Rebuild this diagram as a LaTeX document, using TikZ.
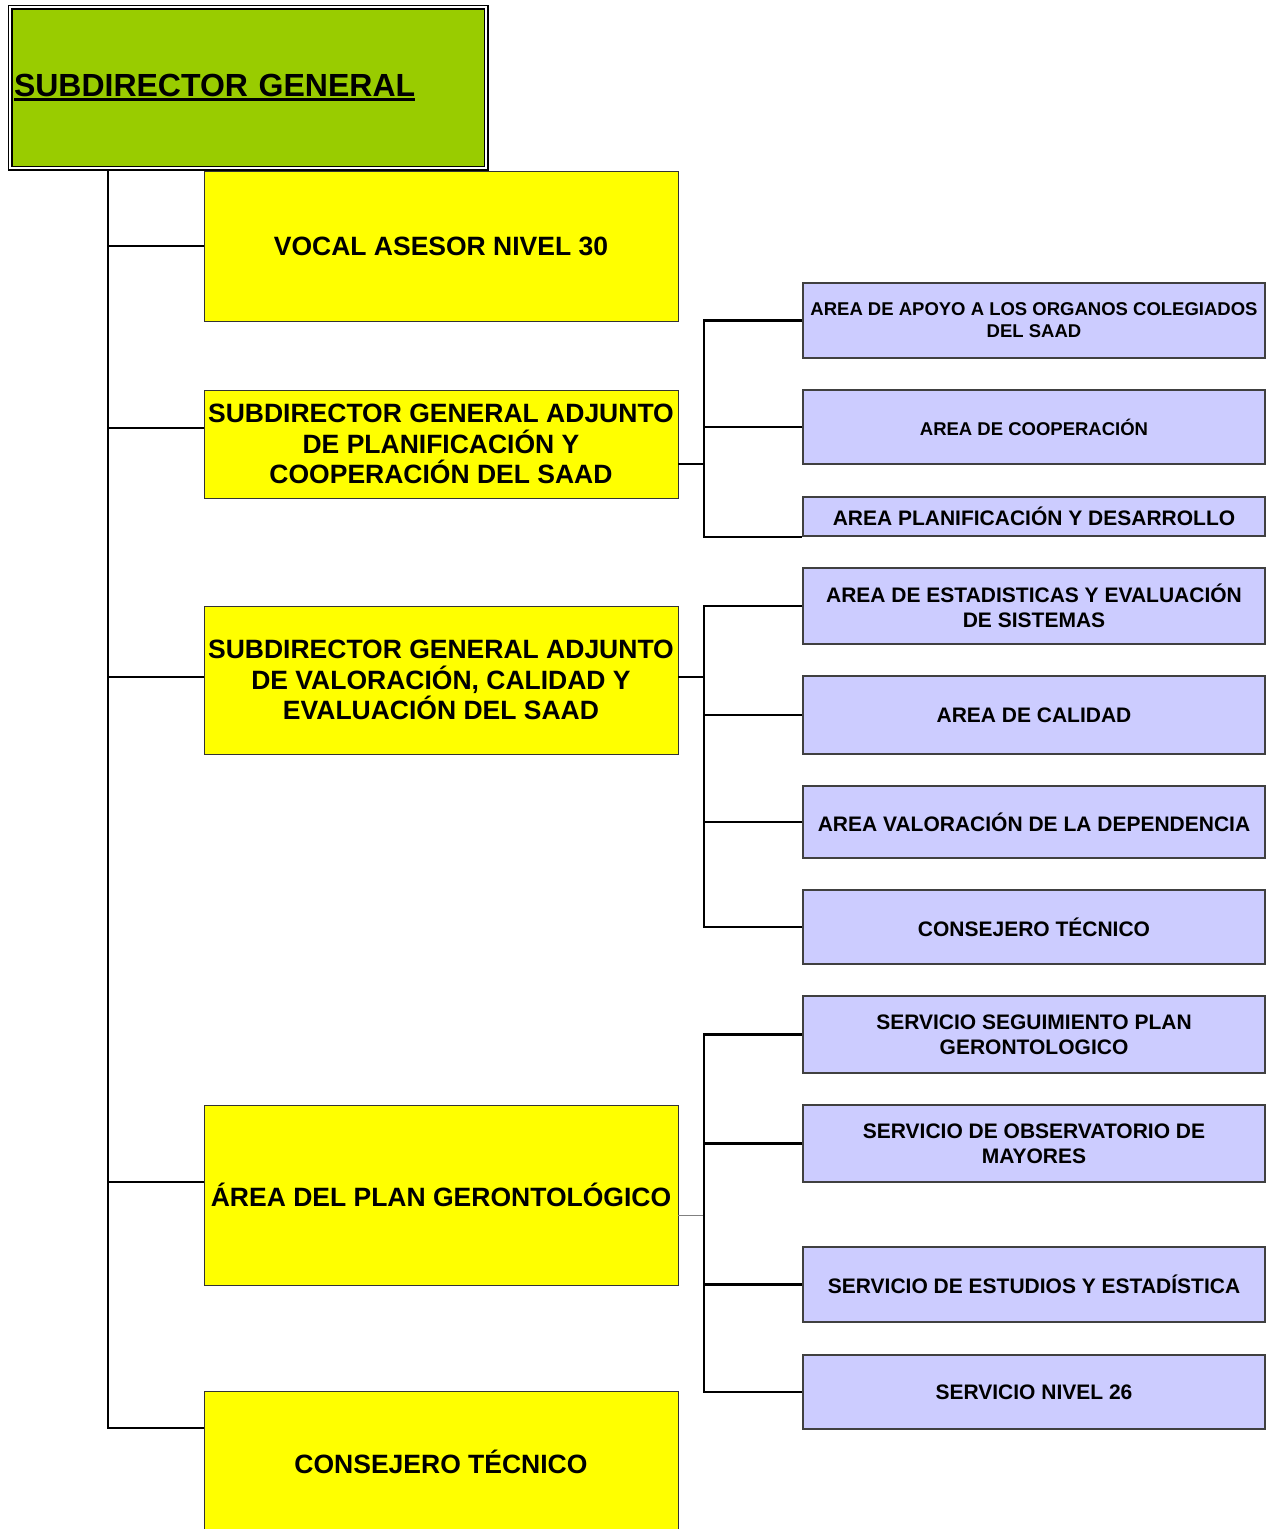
\documentclass[tikz,border=0pt]{standalone}
\usepackage{fontspec}
\setmainfont{Liberation Sans}
\newsavebox{\ulsave}
\newcommand{\ultext}[1]{\sbox{\ulsave}{#1}\rlap{\rule[-5pt]{\wd\ulsave}{3pt}}\usebox{\ulsave}}
\definecolor{sgreen}{HTML}{99CC00}
\definecolor{unityellow}{HTML}{FFFF00}
\definecolor{areablue}{HTML}{CCCCFF}

\begin{document}
\begin{tikzpicture}[x=1pt, y=-1pt,
  headbox/.style={draw=black, line width=1.5pt, double=white, double distance=2pt, fill=sgreen, minimum height=161pt, inner xsep=4pt, text width=468pt, align=left, font=\bfseries\fontsize{32}{36}\selectfont},
  unitbox/.style={draw=black!80, line width=0.8pt, fill=unityellow, minimum width=474pt, inner sep=0pt, align=center, font=\bfseries\fontsize{26.5}{30.5}\selectfont},
  areabox/.style={draw=black!75, line width=1.5pt, fill=areablue, minimum width=462pt, inner sep=0pt, align=center, font=\bfseries\fontsize{21}{25}\selectfont},
  smallarea/.style={areabox, font=\bfseries\fontsize{18.5}{22}\selectfont},
  trunkline/.style={line width=2.8pt},
  link/.style={line width=2.2pt}]
\clip (0,0) rectangle (1275,1529);

\node[unitbox, minimum height=150pt] (vocal) at (441, 246) {VOCAL ASESOR NIVEL 30};
\node[headbox] (head) at (248, 87.5) {\ultext{SUBDIRECTOR GENERAL}};
\node[unitbox, minimum height=108pt] (plan) at (441, 444) {SUBDIRECTOR GENERAL ADJUNTO\\DE PLANIFICACIÓN Y\\COOPERACIÓN DEL SAAD};
\node[unitbox, minimum height=148pt] (valor) at (441, 680) {SUBDIRECTOR GENERAL ADJUNTO\\DE VALORACIÓN, CALIDAD Y\\EVALUACIÓN DEL SAAD};
\node[unitbox, minimum height=180pt] (geron) at (441, 1195) {ÁREA DEL PLAN GERONTOLÓGICO};
\node[unitbox, minimum height=142pt] (consej) at (441, 1462) {CONSEJERO TÉCNICO};

\node[smallarea, minimum height=75pt] (apoyo) at (1034, 320.5) {AREA DE APOYO A LOS ORGANOS COLEGIADOS\\DEL SAAD};
\node[smallarea, minimum height=74pt] (coop) at (1034, 427) {AREA DE COOPERACIÓN};
\node[areabox, minimum height=39pt] (planif) at (1034, 516.5) {AREA PLANIFICACIÓN Y DESARROLLO};
\node[areabox, minimum height=76pt] (estad) at (1034, 606) {AREA DE ESTADISTICAS Y EVALUACIÓN\\DE SISTEMAS};
\node[areabox, minimum height=78pt] (calidad) at (1034, 715) {AREA DE CALIDAD};
\node[areabox, minimum height=72pt] (valdep) at (1034, 822) {AREA VALORACIÓN DE LA DEPENDENCIA};
\node[areabox, minimum height=74pt] (consejt) at (1034, 927) {CONSEJERO TÉCNICO};
\node[areabox, minimum height=77pt] (segui) at (1034, 1034.5) {SERVICIO SEGUIMIENTO PLAN\\GERONTOLOGICO};
\node[areabox, minimum height=77pt] (observ) at (1034, 1143.5) {SERVICIO DE OBSERVATORIO DE\\MAYORES};
\node[areabox, minimum height=75pt] (estud) at (1034, 1284.5) {SERVICIO DE ESTUDIOS Y ESTADÍSTICA};
\node[areabox, minimum height=74pt] (nivel) at (1034, 1392) {SERVICIO NIVEL 26};

\coordinate (trunk) at (108, 170);
\coordinate (bus) at (704, 0);

\draw[trunkline] (trunk) |- ([yshift=34pt]consej.west);
\draw[trunkline] (trunk |- vocal.west) -- (vocal.west);
\draw[link] ([yshift=16pt]plan.west -| trunk) -- ([yshift=16pt]plan.west);
\draw[trunkline] ([yshift=3pt]valor.west -| trunk) -- ([yshift=3pt]valor.west);
\draw[trunkline] ([yshift=13pt]geron.west -| trunk) -- ([yshift=13pt]geron.west);

\draw[link] ([yshift=-20pt]plan.east) -- ([yshift=-20pt]plan.east -| bus);
\draw[link] (apoyo.west) -- (apoyo.west -| bus) |- (planif.south west);
\draw[link] (coop.west) -- (coop.west -| bus);

\draw[link] ([yshift=3pt]valor.east) -- ([yshift=3pt]valor.east -| bus);
\draw[link] (estad.west) -- (estad.west -| bus) |- (consejt.west);
\draw[link] (calidad.west) -- (calidad.west -| bus);
\draw[link] (valdep.west) -- (valdep.west -| bus);

\draw[gray, line width=1pt] ([yshift=-20pt]geron.east) -- ([yshift=-20pt]geron.east -| bus);
\draw[link] (segui.west) -- (segui.west -| bus) |- (nivel.west);
\draw[link] (observ.west) -- (observ.west -| bus);
\draw[link] (estud.west) -- (estud.west -| bus);
\end{tikzpicture}
\end{document}
